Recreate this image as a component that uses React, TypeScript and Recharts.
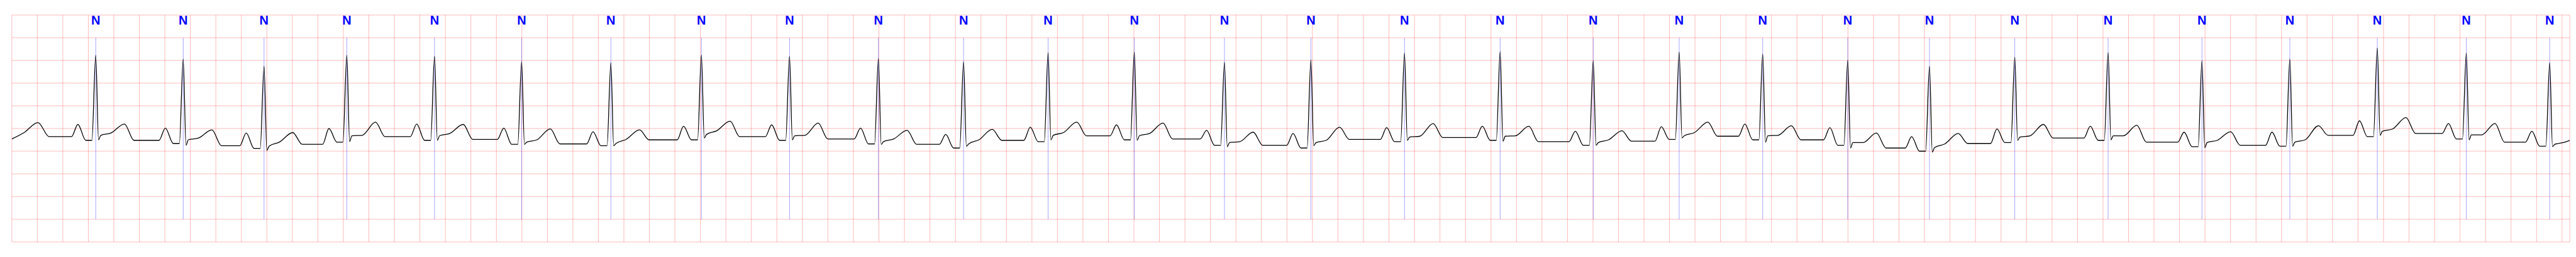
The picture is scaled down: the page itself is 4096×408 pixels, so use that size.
import { LineChart, Line, XAxis, YAxis, CartesianGrid, ReferenceLine, ReferenceDot } from "recharts";

// R-peak times (s) and annotated beat type
const rTimes = [
  0.658, 1.344, 1.978, 2.627, 3.315, 3.998, 4.698, 5.408, 6.099, 6.796,
  7.464, 8.127, 8.803, 9.51, 10.188, 10.922, 11.672, 12.402, 13.076, 13.731,
  14.398, 15.039, 15.708, 16.44, 17.176, 17.865, 18.551, 19.249, 19.903,
];
const beatLabels = rTimes.map(() => "N");

// per-beat amplitudes (mV)
const rPeaks = [
  1.61, 1.53, 1.37, 1.61, 1.59, 1.47, 1.45, 1.62, 1.59, 1.54,
  1.47, 1.67, 1.68, 1.46, 1.51, 1.66, 1.69, 1.49, 1.68, 1.64,
  1.5, 1.37, 1.57, 1.67, 1.49, 1.53, 1.77, 1.66, 1.45,
];
const pPeaks = [
  0.09, 0.01, -0.1, 0.0, 0.1, 0.01, -0.07, 0.05, 0.08, 0.01,
  -0.13, 0.03, 0.08, -0.04, -0.11, 0.02, 0.05, -0.06, 0.04, 0.1,
  0.02, -0.18, -0.01, 0.05, -0.08, -0.08, 0.17, 0.11, -0.06,
];
const prLevels = [
  -0.26, -0.33, -0.44, -0.3, -0.26, -0.35, -0.38, -0.25, -0.26, -0.34,
  -0.43, -0.29, -0.25, -0.37, -0.43, -0.29, -0.26, -0.37, -0.24, -0.25,
  -0.37, -0.5, -0.31, -0.26, -0.4, -0.39, -0.18, -0.23, -0.39,
];
const sLevels = [
  -0.25, -0.37, -0.48, -0.29, -0.26, -0.35, -0.38, -0.21, -0.25, -0.35,
  -0.39, -0.25, -0.26, -0.4, -0.38, -0.26, -0.28, -0.37, -0.21, -0.3,
  -0.43, -0.52, -0.26, -0.25, -0.42, -0.39, -0.15, -0.25, -0.4,
];
const stLevels = [
  -0.15, -0.25, -0.39, -0.16, -0.16, -0.3, -0.33, -0.13, -0.16, -0.29,
  -0.34, -0.15, -0.16, -0.31, -0.31, -0.19, -0.17, -0.31, -0.16, -0.16,
  -0.31, -0.42, -0.19, -0.16, -0.31, -0.3, -0.06, -0.14, -0.35,
];
const stMids = [
  -0.1, -0.21, -0.3, -0.15, -0.11, -0.25, -0.24, -0.05, -0.15, -0.23,
  -0.25, -0.09, -0.11, -0.29, -0.26, -0.17, -0.16, -0.25, -0.09, -0.15,
  -0.31, -0.34, -0.16, -0.16, -0.26, -0.25, -0.01, -0.14, -0.3,
];
const tPeaks = [
  0.1, -0.03, -0.09, 0.14, 0.09, -0.01, -0.03, 0.16, 0.12, -0.04,
  -0.02, 0.14, 0.12, -0.08, 0.03, 0.11, 0.05, -0.05, 0.14, 0.06,
  -0.1, -0.11, 0.09, 0.07, -0.07, 0.06, 0.24, 0.11, null,
];
const tpLevels = [
  -0.26, -0.38, -0.35, -0.18, -0.24, -0.34, -0.25, -0.18, -0.23, -0.35,
  -0.26, -0.16, -0.23, -0.37, -0.24, -0.2, -0.29, -0.28, -0.17, -0.25,
  -0.43, -0.33, -0.21, -0.3, -0.37, -0.15, -0.11, -0.3, null,
];

// trace before the first annotated beat and at the very end
const leadTimes = [0, 0.096, 0.205, 0.293];
const leadValues = [-0.23, -0.09, 0.13, -0.18];
const tailTime = 20.06;
const tailValue = -0.26;

// offsets (s) from the R peak of the points of one beat
const P_ON = -0.19;
const P_TOP = -0.14;
const P_OFF = -0.078;
const Q_ON = -0.03;
const S_AT = 0.022;
const ST_AT = 0.04;
const ST_MID = 0.12;
const T_AT = 0.225;
const T_OFF = 0.3;

const timeTicks = Array.from({ length: 101 }, (_, i) => +(i * 0.2).toFixed(1));
const mvTicks = [-2.5, -2, -1.5, -1, -0.5, 0, 0.5, 1, 1.5, 2];

function buildTrace() {
  const pts: { t: number; v: number }[] = leadTimes.map((t, i) => ({ t, v: leadValues[i] }));
  rTimes.forEach((r, i) => {
    const prevBase = i === 0 ? leadValues[leadValues.length - 1] : (tpLevels[i - 1] as number);
    pts.push(
      { t: r + P_ON, v: prevBase },
      { t: r + P_TOP, v: pPeaks[i] },
      { t: r + P_OFF, v: prLevels[i] },
      { t: r + Q_ON, v: prLevels[i] },
      { t: r, v: rPeaks[i] },
      { t: r + S_AT, v: sLevels[i] },
      { t: r + ST_AT, v: stLevels[i] },
      { t: r + ST_MID, v: stMids[i] }
    );
    if (tPeaks[i] != null) {
      pts.push({ t: r + T_AT, v: tPeaks[i] as number }, { t: r + T_OFF, v: tpLevels[i] as number });
    }
  });
  pts.push({ t: tailTime, v: tailValue });
  return pts.map((p) => ({ t: +p.t.toFixed(4), v: p.v }));
}

const trace = buildTrace();

const NLabel = (props: any) => (
  <text
    x={props.cx}
    y={props.cy + 15}
    textAnchor="middle"
    fill="#0000ff"
    fontFamily="'Liberation Sans', Arial, sans-serif"
    fontWeight="bold"
    fontSize={20}
  >
    {props.label}
  </text>
);

export default function App() {
  return (
    <div style={{ position: "absolute", left: 0, top: 0, width: 4096, height: 408, background: "#fff" }}>
      <LineChart
        width={4096}
        height={408}
        data={trace}
        margin={{ top: 23.9, right: 10, bottom: 23.9, left: 18.8 }}
      >
        <XAxis dataKey="t" type="number" domain={[0, 20.06]} ticks={timeTicks} hide allowDataOverflow />
        <YAxis type="number" domain={[-2.5, 2.5]} ticks={mvTicks} hide allowDataOverflow />
        <CartesianGrid stroke="#ff0000" strokeOpacity={0.27} strokeWidth={1} />
        {rTimes.map((t) => (
          <ReferenceLine
            key={"b" + t}
            segment={[{ x: t, y: 2 }, { x: t, y: -2 }]}
            stroke="#0000ff"
            strokeOpacity={0.5}
            strokeWidth={0.7}
          />
        ))}
        {rTimes.map((t, i) => (
          <ReferenceDot
            key={"n" + t}
            x={t}
            y={2.5}
            r={0}
            shape={(p: any) => <NLabel {...p} label={beatLabels[i]} />}
          />
        ))}
        <Line
          type="monotone"
          dataKey="v"
          stroke="#000"
          strokeWidth={1.3}
          dot={false}
          isAnimationActive={false}
        />
      </LineChart>
    </div>
  );
}
